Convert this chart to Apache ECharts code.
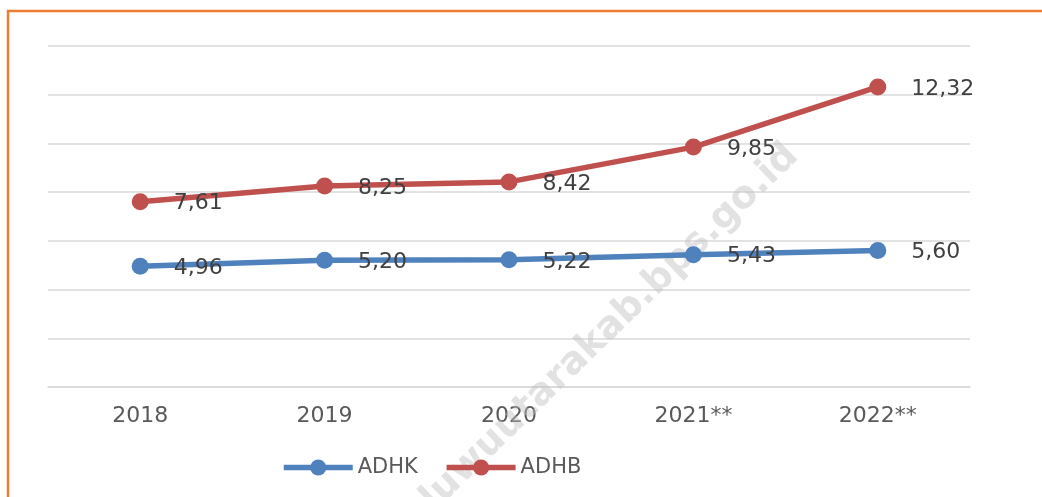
<!DOCTYPE html>
<html>
<head>
<meta charset="utf-8">
<script src="https://cdn.jsdelivr.net/npm/echarts@6/dist/echarts.min.js"></script>
<style>
html,body{margin:0;padding:0;background:#fff;}
#c{width:1042px;height:497px;}
</style>
</head>
<body>
<div id="c"></div>
<script>
var categories = ['2018', '2019', '2020', '2021**', '2022**'];
var adhk = [4.96, 5.20, 5.22, 5.43, 5.60];
var adhb = [7.61, 8.25, 8.42, 9.85, 12.32];
var seriesNames = ['ADHK', 'ADHB'];

var font = 'DejaVu Sans';
var chart = echarts.init(document.getElementById('c'), null, {renderer: 'canvas'});

function fmt(p) { return p.value.toFixed(2).replace('.', ','); }

function mkSeries(name, data, color) {
  return {
    name: name,
    type: 'line',
    data: data,
    smooth: false,
    symbol: 'circle',
    symbolSize: 17,
    z: 5,
    lineStyle: {color: color, width: 5.5},
    itemStyle: {color: color},
    label: {
      show: true,
      position: 'right',
      distance: 25,
      offset: [0, 2],
      formatter: fmt,
      fontFamily: font,
      fontSize: 22,
      color: '#404040'
    },
    emphasis: {disabled: true},
    animation: false
  };
}

chart.setOption({
  animation: false,
  grid: {left: 48, right: 72, top: 46, bottom: 110},
  xAxis: {
    type: 'category',
    data: categories,
    boundaryGap: true,
    axisLine: {show: true, lineStyle: {color: '#D9D9D9', width: 1.5}},
    axisTick: {show: false},
    axisLabel: {fontFamily: font, fontSize: 22, color: '#595959', margin: 18}
  },
  yAxis: {
    type: 'value',
    min: 0, max: 14, interval: 2,
    axisLine: {show: false},
    axisTick: {show: false},
    axisLabel: {show: false},
    splitLine: {show: true, lineStyle: {color: '#D9D9D9', width: 1.5}}
  },
  legend: {
    left: 281,
    top: 457,
    padding: 0,
    itemWidth: 69,
    itemHeight: 20,
    itemGap: 26,
    data: seriesNames,
    lineStyle: {width: 5.5},
    textStyle: {fontFamily: font, fontSize: 21, color: '#595959'}
  },
  graphic: [
    {
      type: 'rect',
      z: 0,
      shape: {x: 8, y: 11, width: 1100, height: 600},
      style: {fill: 'none', stroke: '#ED7D31', lineWidth: 2.5},
      silent: true
    },
    {
      type: 'text',
      x: 806, y: 164,
      rotation: 0.77,
      z: 1,
      style: {
        text: 'luwuutarakab.bps.go.id',
        font: 'bold 38px "DejaVu Sans"',
        fill: 'rgba(190,190,190,0.45)',
        textAlign: 'right',
        textVerticalAlign: 'bottom'
      },
      silent: true
    }
  ],
  series: [
    mkSeries(seriesNames[0], adhk, '#4F81BD'),
    mkSeries(seriesNames[1], adhb, '#C0504D')
  ]
});
</script>
</body>
</html>
